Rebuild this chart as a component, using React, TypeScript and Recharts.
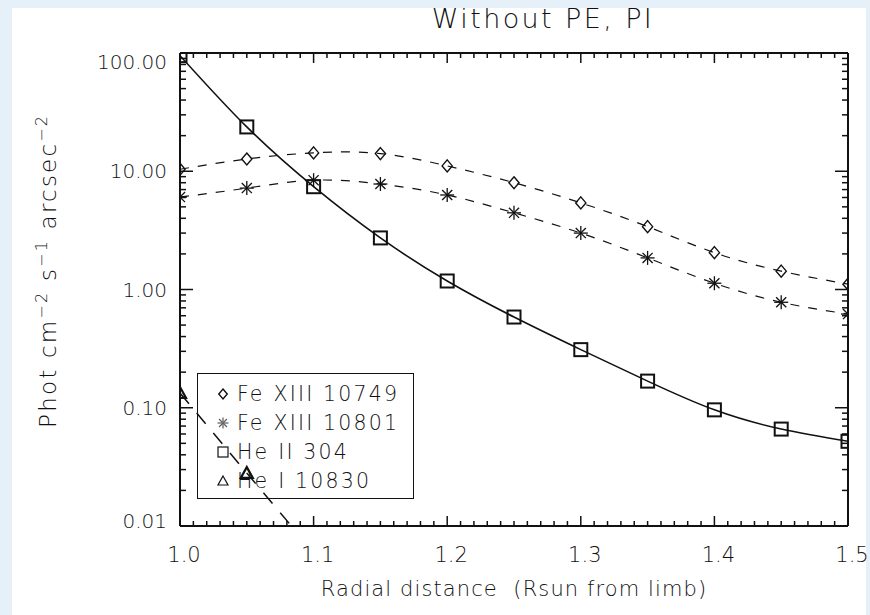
import React from 'react';
import { LineChart, Line, XAxis, YAxis, Legend } from 'recharts';

// radial distance, Rsun from limb
const radius = [1.0, 1.05, 1.1, 1.15, 1.2, 1.25, 1.3, 1.35, 1.4, 1.45, 1.5];

// photons cm^-2 s^-1 arcsec^-2
const feXIII10749 = [10.4, 12.7, 14.3, 14.1, 11.1, 8.0, 5.4, 3.4, 2.05, 1.43, 1.11];
const feXIII10801 = [6.05, 7.2, 8.4, 7.8, 6.3, 4.45, 3.0, 1.85, 1.13, 0.78, 0.62];
const heII304 = [95, 23.7, 7.4, 2.73, 1.18, 0.585, 0.31, 0.168, 0.096, 0.066, 0.052];
const heI10830 = [0.133, 0.028, 0.006];

const seriesNames = ['Fe XIII 10749', 'Fe XIII 10801', 'He II 304', 'He I 10830'];

const xMajorTicks = [1.0, 1.1, 1.2, 1.3, 1.4, 1.5];
const yMajorTicks = [0.01, 0.1, 1, 10, 100];

const xTicks = Array.from({ length: 51 }, (_, i) => Number((1 + i * 0.01).toFixed(2)));
const yTicks: number[] = [];
[0.01, 0.1, 1, 10].forEach((d) => {
  for (let k = 1; k < 10; k++) yTicks.push(Number((d * k).toPrecision(3)));
});
yTicks.push(100);

const data = radius.map((r, i) => ({
  r,
  fe1: feXIII10749[i],
  fe2: feXIII10801[i],
  he2: heII304[i],
  he1: i < heI10830.length ? heI10830[i] : undefined,
}));

const FONT = '"DejaVu Sans", sans-serif';
const INK = '#111';

const isMajorX = (v: number) => xMajorTicks.some((t) => Math.abs(t - v) < 1e-6);
const isMajorY = (v: number) => yMajorTicks.some((t) => Math.abs(t - v) < 1e-9);

const BottomTick = (props: any) => {
  const { x, y, payload } = props;
  const major = isMajorX(payload.value);
  return (
    <g>
      <line x1={x} x2={x} y1={y} y2={y - (major ? 10 : 5)} stroke={INK} strokeWidth={1.5} />
      {major && (
        <text x={x + 4} y={y + 36} textAnchor="middle" fontSize={21} fontWeight={200} fontFamily={FONT} fill={INK}>
          {payload.value.toFixed(1)}
        </text>
      )}
    </g>
  );
};

const TopTick = (props: any) => {
  const { x, y, payload } = props;
  const major = isMajorX(payload.value);
  return <line x1={x} x2={x} y1={y} y2={y + (major ? 10 : 5)} stroke={INK} strokeWidth={1.5} />;
};

const LeftTick = (props: any) => {
  const { x, y, payload } = props;
  const v = payload.value;
  const major = isMajorY(v);
  // the end labels sit a little inside the frame, as in the original
  const nudge = Math.abs(v - 100) < 1e-9 ? 9 : Math.abs(v - 0.01) < 1e-9 ? -5 : 0;
  return (
    <g>
      <line x1={x} x2={x + (major ? 13 : 6)} y1={y} y2={y} stroke={INK} strokeWidth={1.5} />
      {major && (
        <text x={x - 13} y={y + 7 + nudge} textAnchor="end" fontSize={20} fontWeight={200} fontFamily={FONT} fill={INK}>
          {v.toFixed(2)}
        </text>
      )}
    </g>
  );
};

const RightTick = (props: any) => {
  const { x, y, payload } = props;
  const major = isMajorY(payload.value);
  return <line x1={x} x2={x - (major ? 13 : 6)} y1={y} y2={y} stroke={INK} strokeWidth={1.5} />;
};

const Diamond = ({ cx, cy, s = 6 }: any) => (
  <path d={`M${cx},${cy - s}L${cx + s * 0.85},${cy}L${cx},${cy + s}L${cx - s * 0.85},${cy}Z`} fill="none" stroke={INK} strokeWidth={1.4} />
);
const Asterisk = ({ cx, cy, s = 7, color = INK }: any) => (
  <g stroke={color} strokeWidth={1.3}>
    <line x1={cx - s} x2={cx + s} y1={cy} y2={cy} />
    <line x1={cx} x2={cx} y1={cy - s} y2={cy + s} />
    <line x1={cx - s * 0.72} x2={cx + s * 0.72} y1={cy - s * 0.72} y2={cy + s * 0.72} />
    <line x1={cx - s * 0.72} x2={cx + s * 0.72} y1={cy + s * 0.72} y2={cy - s * 0.72} />
  </g>
);
const Square = ({ cx, cy, s = 6.5, w = 2 }: any) => (
  <rect x={cx - s} y={cy - s} width={2 * s} height={2 * s} fill="none" stroke={INK} strokeWidth={w} />
);
const Triangle = ({ cx, cy, s = 6, w = 2.2 }: any) => (
  <path d={`M${cx},${cy - s}L${cx + s},${cy + s * 0.8}L${cx - s},${cy + s * 0.8}Z`} fill="none" stroke={INK} strokeWidth={w} />
);

const dotOf = (Shape: any) => (props: any) => {
  const { cx, cy, index, value } = props;
  if (cx == null || cy == null || value == null) return <g key={`n${index}`} />;
  return <Shape key={`d${index}`} cx={cx} cy={cy} />;
};

const legendSymbol = (name: string) => {
  if (name === seriesNames[0]) return <Diamond cx={8} cy={10} s={5} />;
  if (name === seriesNames[1]) return <Asterisk cx={8} cy={10} s={5.5} color="#666" />;
  if (name === seriesNames[2]) return <Square cx={8} cy={10} s={5} w={1.2} />;
  return <Triangle cx={8} cy={10} s={5} w={1.2} />;
};

const renderLegend = (props: any) => {
  const { payload = [] } = props;
  const ordered = seriesNames
    .map((n) => payload.find((p: any) => p.value === n))
    .filter(Boolean);
  return (
    <div
      style={{
        border: `1.5px solid ${INK}`,
        width: 217,
        height: 126,
        boxSizing: 'border-box',
        paddingTop: 5,
        paddingLeft: 17,
        fontFamily: FONT,
        fontWeight: 200,
        fontSize: 20.5,
        letterSpacing: 2.2,
        color: INK,
      }}
    >
      {ordered.map((p: any) => (
        <div key={p.value} style={{ display: 'flex', alignItems: 'center', height: 29, whiteSpace: 'pre' }}>
          <svg width={18} height={20} style={{ marginRight: 4 }}>
            {legendSymbol(p.value)}
          </svg>
          <span>{p.value}</span>
        </div>
      ))}
    </div>
  );
};

const App = () => {
  return (
    <div style={{ position: 'absolute', left: 0, top: 0, width: 870, height: 615, background: '#e6f0f8' }}>
      <div style={{ position: 'absolute', left: 12, top: 8, width: 854, height: 607, background: '#fff' }} />
      <div style={{ position: 'absolute', left: 0, top: 0 }}>
        <LineChart width={870} height={615} data={data} margin={{ top: 52, right: 21, bottom: 88, left: 179 }}>
          <XAxis
            dataKey="r"
            type="number"
            domain={[1, 1.5]}
            allowDataOverflow
            ticks={xTicks}
            interval={0}
            height={1}
            tickSize={0}
            tickMargin={0}
            tick={<BottomTick />}
            tickLine={false}
            axisLine={{ stroke: INK, strokeWidth: 2 }}
          />
          <XAxis
            xAxisId="top"
            orientation="top"
            dataKey="r"
            type="number"
            domain={[1, 1.5]}
            allowDataOverflow
            ticks={xTicks}
            interval={0}
            height={1}
            tickSize={0}
            tickMargin={0}
            tick={<TopTick />}
            tickLine={false}
            axisLine={{ stroke: INK, strokeWidth: 2 }}
          />
          <YAxis
            type="number"
            scale="log"
            domain={[0.01, 100]}
            allowDataOverflow
            ticks={yTicks}
            interval={0}
            width={1}
            tickSize={0}
            tickMargin={0}
            tick={<LeftTick />}
            tickLine={false}
            axisLine={{ stroke: INK, strokeWidth: 2 }}
          />
          <YAxis
            yAxisId="right"
            orientation="right"
            type="number"
            scale="log"
            domain={[0.01, 100]}
            allowDataOverflow
            ticks={yTicks}
            interval={0}
            width={1}
            tickSize={0}
            tickMargin={0}
            tick={<RightTick />}
            tickLine={false}
            axisLine={{ stroke: INK, strokeWidth: 2 }}
          />
          <Line
            name={seriesNames[0]}
            dataKey="fe1"
            type="natural"
            stroke={INK}
            strokeWidth={1.2}
            strokeDasharray="9 9"
            dot={dotOf(Diamond)}
            isAnimationActive={false}
          />
          <Line
            name={seriesNames[1]}
            dataKey="fe2"
            type="natural"
            stroke={INK}
            strokeWidth={1.2}
            strokeDasharray="9 9"
            dot={dotOf(Asterisk)}
            isAnimationActive={false}
          />
          <Line
            name={seriesNames[2]}
            dataKey="he2"
            type="natural"
            stroke={INK}
            strokeWidth={1.6}
            dot={dotOf(Square)}
            isAnimationActive={false}
          />
          <Line
            name={seriesNames[3]}
            dataKey="he1"
            type="linear"
            stroke={INK}
            strokeWidth={1.5}
            strokeDasharray="14 12"
            dot={dotOf(Triangle)}
            isAnimationActive={false}
          />
          <Legend
            layout="vertical"
            align="center"
            verticalAlign="middle"
            content={renderLegend}
            wrapperStyle={{ position: 'absolute', left: 197, top: 373, width: 217, height: 126 }}
          />
        </LineChart>
      </div>
      <div
        style={{
          position: 'absolute',
          left: 243,
          width: 600,
          top: 3,
          textAlign: 'center',
          fontFamily: FONT,
          fontWeight: 200,
          fontSize: 27,
          letterSpacing: 2.4,
          color: INK,
        }}
      >
        Without PE, PI
      </div>
      <div
        style={{
          position: 'absolute',
          left: 214,
          width: 600,
          top: 577,
          textAlign: 'center',
          fontFamily: FONT,
          fontWeight: 200,
          fontSize: 21,
          letterSpacing: 1.1,
          color: INK,
          whiteSpace: 'pre',
        }}
      >
        {'Radial distance  (Rsun from limb)'}
      </div>
      <div
        style={{
          position: 'absolute',
          left: 45,
          top: 268,
          width: 400,
          marginLeft: -200,
          marginTop: -16,
          textAlign: 'center',
          transform: 'rotate(-90deg)',
          fontFamily: FONT,
          fontWeight: 200,
          fontSize: 23,
          letterSpacing: 2.2,
          lineHeight: '32px',
          color: INK,
          whiteSpace: 'pre',
        }}
      >
        Phot cm<sup style={{ fontSize: 16 }}>−2</sup> s<sup style={{ fontSize: 16 }}>−1</sup> arcsec
        <sup style={{ fontSize: 16 }}>−2</sup>
      </div>
    </div>
  );
};

export default App;
